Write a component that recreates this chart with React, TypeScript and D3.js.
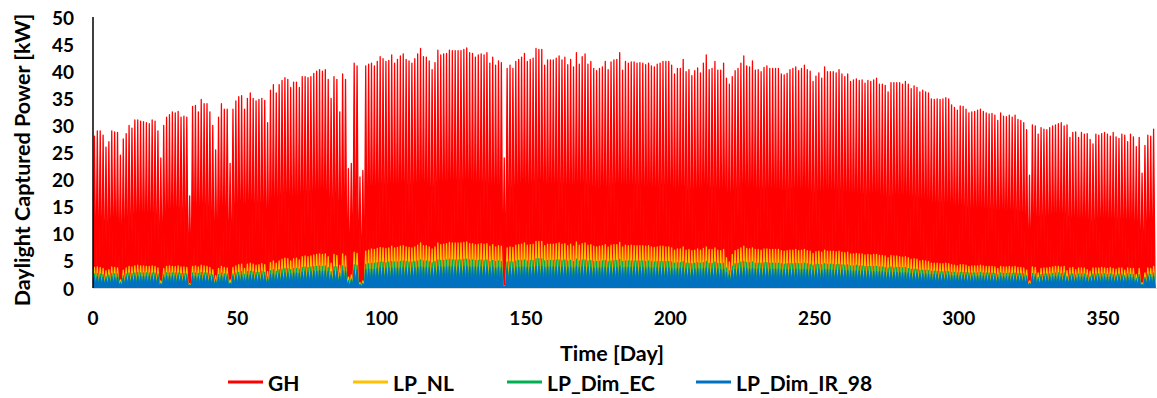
import React from 'react';
import * as d3 from 'd3';

// Daily peak values [kW], day 0 .. 367
const GH = [
  28, 29, 29, 28.2, 26, 27, 29, 28.8, 28.7, 24.5,
  27.5, 28.5, 30, 29.5, 31, 31, 30.8, 30.7, 30.5, 30.3,
  31, 30.8, 29, 24, 30, 31.5, 32, 32.5, 32.3, 32.6,
  31.5, 31.7, 31.5, 17, 33.5, 33.7, 32.5, 34.8, 34, 34,
  32.5, 30, 25.5, 31.5, 34, 33, 33, 23, 33, 34.5,
  35.3, 35.5, 33, 35, 36, 35, 34.5, 34.8, 35, 34.6,
  30.5, 36.5, 37.5, 36, 37.5, 38.3, 38.8, 38.5, 37, 38,
  38, 37, 39, 39, 38.8, 39, 39.6, 40, 40.3, 40,
  40.3, 38.5, 35, 39, 38.5, 32.5, 39.5, 38.5, 22, 23,
  41.5, 41, 20.5, 21.7, 41, 41.3, 41.5, 41, 41.8, 42.7,
  42.3, 41.8, 42, 43, 41.5, 42.2, 42.8, 43.2, 42.2, 41.9,
  41.5, 42.3, 43.2, 44.2, 42.7, 42.6, 41.9, 40.3, 41.6, 43.9,
  43.0, 43.2, 43.3, 43.9, 43.8, 43.8, 43.8, 43.8, 44.0, 44.3,
  43.4, 43.3, 42.6, 43.0, 43.2, 43.0, 43.4, 41.5, 42.6, 41.1,
  41.9, 41.6, 24, 40.5, 41.1, 40.5, 41.8, 42.2, 42.6, 43.3,
  41.8, 42.2, 42.4, 44.2, 44.0, 44.0, 41.1, 42.1, 42.1, 42.1,
  42.4, 42.8, 42.1, 42.6, 41.2, 42.2, 40.8, 43.4, 41.3, 42.7,
  43.2, 41.3, 41.8, 40.5, 40.1, 40.5, 40.8, 41.8, 40.3, 41.7,
  42.1, 42.2, 43.4, 40.2, 41.8, 41.5, 41.7, 41.7, 41.5, 41.6,
  41.5, 41.2, 41.5, 41.0, 40.8, 41.3, 41.5, 41.8, 41.8, 41.8,
  41.1, 39.5, 40.5, 40.5, 42.2, 39.9, 40.3, 39.2, 40.1, 40.6,
  39.7, 41.5, 43.0, 40.3, 40.5, 41.8, 40.2, 40.2, 41.5, 38.7,
  37.6, 39.0, 40.1, 40.5, 41.5, 42.8, 41.0, 40.8, 41.9, 40.2,
  40.3, 39.9, 40.7, 41.0, 40.5, 40.5, 40.5,
  40.5, 39.5, 39.3, 39.6, 40.3, 40.5, 40.8, 40.1, 40.5, 41.1,
  40.3, 40.0, 38.1, 39.1, 39.7, 38.7, 40.8, 39.9, 39.9, 39.9,
  39.7, 40.3, 39.5, 39.0, 39.5, 38.1, 38.4, 38.6, 38.3, 38.4,
  37.8, 38.3, 38.1, 38.4, 38.7, 37.6, 37.6, 37.4, 36.2, 37.9,
  37.9, 37.9, 37.9, 37.6, 38.1, 37.6, 36.8, 37.3, 37.0, 36.2,
  36.5, 36.2, 36.0, 34.9, 34.8, 34.9, 34.8, 34.9, 35.1, 34.9,
  33.8, 33.3, 32.8, 33.6, 33.5, 33.0, 32.3, 32.5, 32.6, 32.8,
  33.0, 32.6, 32.3, 32.1, 32.2, 31.9, 30.9, 32.3, 31.7, 31.6,
  31.9, 31.5, 31.9, 31.1, 30.9, 30.5, 29.2, 20.8, 30.1, 29.9,
  28.4, 29.6, 29.3, 29.2, 29.6, 29.9, 30.1, 30.3, 30.5, 29.9,
  30.1, 27.8, 28.7, 28.8, 27.8, 28.7, 28.4, 28.5, 27.4, 26.6,
  28.4, 28.2, 28.5, 28.7, 28.4, 28.0, 28.7, 27.9, 27.6, 28.4,
  28.2, 27.0, 28.4, 27.9, 26.1, 27.8, 21.2, 26.3, 28.2, 28.0,
  29.3,
];

const LP_NL = [
  3.8, 3.9, 3.8, 3.6, 3.2, 3.4, 3.9, 3.8, 3.7, 1.5,
  3.3, 3.7, 4.0, 3.9, 4.1, 4.2, 4.1, 4.1, 4.0, 4.0,
  4.1, 4.0, 3.7, 1.3, 3.6, 4.0, 4.1, 4.0, 4.0, 4.1,
  3.9, 3.9, 3.8, 0.8, 4.0, 4.1, 3.9, 4.2, 4.1, 4.0,
  3.8, 3.4, 2.3, 3.6, 4.0, 3.8, 3.7, 1.5, 3.8, 4.1,
  4.3, 4.4, 3.6, 4.4, 4.6, 4.4, 4.2, 4.3, 4.5, 4.3,
  3.0, 4.7, 5.0, 4.6, 5.0, 5.3, 5.5, 5.4, 5.0, 5.4,
  5.5, 5.2, 5.8, 5.9, 5.8, 5.9, 6.1, 6.2, 6.3, 6.2,
  6.3, 5.8, 4.6, 6.2, 6.0, 4.2, 6.3, 5.9, 2.0, 2.4,
  6.6, 6.4, 1.0, 1.3, 6.8, 7.0, 7.2, 7.1, 7.3, 7.5,
  7.4, 7.3, 7.4, 7.7, 7.4, 7.5, 7.7, 7.8, 7.6, 7.5,
  7.4, 7.6, 7.9, 8.3, 7.8, 7.8, 7.6, 7.2, 7.6, 8.3,
  8.0, 8.1, 8.2, 8.4, 8.3, 8.3, 8.3, 8.3, 8.4, 8.5,
  8.2, 8.2, 8.0, 8.1, 8.2, 8.1, 8.2, 7.7, 8.0, 7.6,
  7.8, 7.7, 0.4, 7.4, 7.6, 7.5, 7.9, 8.0, 8.1, 8.3,
  7.9, 8.0, 8.1, 8.6, 8.6, 8.6, 7.8, 8.1, 8.1, 8.1,
  8.2, 8.3, 8.1, 8.2, 7.8, 8.1, 7.7, 8.5, 7.9, 8.2,
  8.3, 7.9, 8.0, 7.7, 7.6, 7.7, 7.8, 8.0, 7.6, 7.9,
  8.0, 8.0, 8.4, 7.6, 7.9, 7.8, 7.9, 7.8, 7.8, 7.8,
  7.8, 7.7, 7.8, 7.6, 7.5, 7.6, 7.7, 7.7, 7.6, 7.6,
  7.4, 7.0, 7.2, 7.2, 7.6, 7.0, 7.1, 6.9, 7.0, 7.2,
  7.0, 7.3, 7.6, 7.1, 7.1, 7.4, 7.0, 6.9, 7.1, 5.6,
  4.8, 6.2, 6.9, 7.1, 7.4, 7.7, 7.3, 7.2, 7.4, 7.1,
  7.1, 7.0, 7.2, 7.2, 7.1, 7.1, 7.1, 7.1, 6.9, 6.8,
  6.9, 7.0, 7.0, 7.1, 6.9, 7.0, 7.1, 6.9, 6.8, 6.4,
  6.7, 6.8, 6.6, 7.0, 6.8, 6.8, 6.8, 6.7, 6.8, 6.6,
  6.5, 6.6, 6.3, 6.3, 6.4, 6.3, 6.3, 6.1, 6.2, 6.1,
  6.2, 6.2, 6.0, 6.0, 5.9, 5.6, 6.0, 5.9, 5.9, 5.8,
  5.7, 5.8, 5.6, 5.3, 5.4, 5.3, 5.0, 5.1, 5.0, 4.9,
  4.6, 4.6, 4.6, 4.5, 4.5, 4.6, 4.5, 4.3, 4.2, 4.1,
  4.3, 4.3, 4.2, 4.0, 4.1, 4.1, 4.1, 4.2, 4.1, 4.0,
  4.0, 4.0, 3.9, 3.6, 4.0, 3.9, 3.9, 4.0, 3.9, 4.0,
  3.8, 3.8, 3.7, 3.3, 1.3, 3.9, 3.8, 2.8, 3.6, 3.7,
  3.7, 3.8, 3.9, 4.0, 4.0, 3.9, 4.0, 3.2, 3.7, 3.8,
  3.4, 3.7, 3.7, 3.7, 3.4, 3.1, 3.7, 3.7, 3.7, 3.8,
  3.7, 3.6, 3.8, 3.6, 3.5, 3.7, 3.7, 3.3, 3.7, 3.6,
  3.6, 2.5, 3.6, 1.0, 2.8, 3.7, 3.6, 4.0,
];

const LP_DIM_EC = [
  2.6, 2.7, 2.6, 2.5, 2.2, 2.4, 2.7, 2.6, 2.6, 1.1,
  2.3, 2.6, 2.8, 2.7, 2.8, 2.9, 2.8, 2.8, 2.8, 2.8,
  2.8, 2.8, 2.6, 0.9, 2.5, 2.8, 2.8, 2.8, 2.8, 2.8,
  2.7, 2.7, 2.6, 0.6, 2.8, 2.8, 2.7, 2.9, 2.8, 2.8,
  2.6, 2.4, 1.6, 2.5, 2.8, 2.6, 2.6, 1.0, 2.6, 2.8,
  2.9, 3.0, 2.5, 3.0, 3.1, 3.0, 2.9, 2.9, 3.1, 2.9,
  2.1, 3.2, 3.4, 3.1, 3.4, 3.5, 3.6, 3.6, 3.4, 3.6,
  3.6, 3.5, 3.8, 3.9, 3.8, 3.9, 4.0, 4.0, 4.1, 4.0,
  4.1, 3.8, 3.0, 4.0, 3.9, 2.8, 4.1, 3.9, 1.4, 1.7,
  4.3, 4.2, 0.7, 0.9, 4.4, 4.5, 4.6, 4.6, 4.7, 4.8,
  4.8, 4.7, 4.8, 4.9, 4.8, 4.8, 4.9, 5.0, 4.9, 4.8,
  4.8, 4.9, 5.0, 5.2, 5.0, 5.0, 4.9, 4.7, 4.9, 5.2,
  5.1, 5.1, 5.2, 5.3, 5.2, 5.2, 5.2, 5.2, 5.3, 5.3,
  5.2, 5.2, 5.1, 5.1, 5.2, 5.1, 5.2, 4.9, 5.1, 4.9,
  5.0, 4.9, 0.3, 4.8, 4.9, 4.8, 5.0, 5.1, 5.1, 5.2,
  5.0, 5.1, 5.1, 5.4, 5.4, 5.4, 5.0, 5.1, 5.1, 5.1,
  5.2, 5.2, 5.1, 5.2, 5.0, 5.1, 4.9, 5.3, 5.0, 5.2,
  5.2, 5.0, 5.1, 4.9, 4.9, 4.9, 5.0, 5.1, 4.9, 5.0,
  5.1, 5.1, 5.3, 4.9, 5.0, 5.0, 5.0, 5.0, 5.0, 5.0,
  5.0, 4.9, 5.0, 4.9, 4.8, 4.9, 4.9, 4.9, 4.9, 4.9,
  4.8, 4.6, 4.7, 4.7, 4.9, 4.6, 4.6, 4.5, 4.6, 4.7,
  4.6, 4.7, 4.9, 4.6, 4.6, 4.8, 4.6, 4.5, 4.6, 3.7,
  3.2, 4.1, 4.5, 4.6, 4.8, 4.9, 4.7, 4.7, 4.8, 4.6,
  4.6, 4.6, 4.7, 4.7, 4.6, 4.6, 4.6, 4.6, 4.5, 4.4,
  4.5, 4.5, 4.5, 4.6, 4.5, 4.5, 4.6, 4.5, 4.4, 4.2,
  4.4, 4.4, 4.3, 4.5, 4.4, 4.4, 4.4, 4.3, 4.4, 4.3,
  4.2, 4.3, 4.1, 4.1, 4.2, 4.1, 4.1, 4.0, 4.0, 4.0,
  4.0, 4.0, 3.9, 3.9, 3.8, 3.7, 3.9, 3.8, 3.8, 3.8,
  3.7, 3.8, 3.6, 3.5, 3.5, 3.5, 3.3, 3.3, 3.3, 3.2,
  3.1, 3.1, 3.1, 3.0, 3.0, 3.1, 3.0, 2.9, 2.9, 2.8,
  2.9, 2.9, 2.9, 2.8, 2.8, 2.8, 2.8, 2.9, 2.8, 2.8,
  2.8, 2.8, 2.7, 2.5, 2.8, 2.7, 2.7, 2.8, 2.7, 2.8,
  2.7, 2.7, 2.6, 2.3, 0.9, 2.7, 2.6, 2.0, 2.5, 2.6,
  2.6, 2.6, 2.7, 2.8, 2.8, 2.7, 2.8, 2.2, 2.6, 2.6,
  2.4, 2.6, 2.6, 2.6, 2.4, 2.2, 2.6, 2.6, 2.6, 2.6,
  2.6, 2.5, 2.6, 2.5, 2.4, 2.6, 2.6, 2.3, 2.6, 2.5,
  2.5, 1.8, 2.5, 0.7, 2.0, 2.6, 2.5, 2.8,
];

const LP_DIM_IR_98 = [
  2.0, 2.1, 2.0, 1.9, 1.7, 1.9, 2.1, 2.0, 2.0, 0.9,
  1.8, 2.0, 2.2, 2.1, 2.2, 2.2, 2.2, 2.2, 2.2, 2.2,
  2.2, 2.2, 2.0, 0.7, 2.0, 2.2, 2.2, 2.2, 2.2, 2.2,
  2.1, 2.1, 2.0, 0.5, 2.2, 2.2, 2.1, 2.3, 2.2, 2.2,
  2.1, 1.9, 1.3, 2.0, 2.2, 2.1, 2.1, 0.8, 2.1, 2.2,
  2.3, 2.4, 2.0, 2.4, 2.4, 2.4, 2.3, 2.3, 2.4, 2.3,
  1.7, 2.5, 2.6, 2.4, 2.6, 2.7, 2.8, 2.8, 2.6, 2.8,
  2.8, 2.7, 2.9, 3.0, 2.9, 3.0, 3.1, 3.1, 3.2, 3.1,
  3.2, 3.0, 2.4, 3.1, 3.0, 2.2, 3.2, 3.0, 1.1, 1.3,
  3.3, 3.3, 0.6, 0.7, 3.4, 3.5, 3.5, 3.5, 3.6, 3.7,
  3.7, 3.6, 3.7, 3.7, 3.7, 3.7, 3.7, 3.8, 3.7, 3.7,
  3.7, 3.7, 3.8, 3.9, 3.8, 3.8, 3.7, 3.6, 3.7, 3.9,
  3.9, 3.9, 3.9, 4.0, 3.9, 3.9, 3.9, 3.9, 4.0, 4.0,
  3.9, 3.9, 3.9, 3.9, 3.9, 3.9, 3.9, 3.7, 3.9, 3.7,
  3.8, 3.7, 0.3, 3.6, 3.7, 3.6, 3.8, 3.8, 3.9, 3.9,
  3.8, 3.8, 3.9, 4.0, 4.0, 4.0, 3.8, 3.9, 3.9, 3.9,
  3.9, 3.9, 3.9, 3.9, 3.8, 3.9, 3.7, 4.0, 3.8, 3.9,
  3.9, 3.8, 3.8, 3.7, 3.7, 3.7, 3.8, 3.8, 3.7, 3.8,
  3.8, 3.8, 4.0, 3.7, 3.8, 3.8, 3.8, 3.8, 3.8, 3.8,
  3.8, 3.7, 3.8, 3.7, 3.7, 3.7, 3.7, 3.7, 3.7, 3.7,
  3.6, 3.5, 3.6, 3.6, 3.7, 3.5, 3.5, 3.4, 3.5, 3.6,
  3.5, 3.6, 3.7, 3.5, 3.5, 3.6, 3.5, 3.4, 3.5, 2.9,
  2.5, 3.2, 3.4, 3.5, 3.6, 3.7, 3.6, 3.5, 3.6, 3.5,
  3.5, 3.5, 3.5, 3.5, 3.5, 3.5, 3.5, 3.5, 3.4, 3.4,
  3.4, 3.4, 3.4, 3.5, 3.4, 3.4, 3.5, 3.4, 3.4, 3.2,
  3.3, 3.4, 3.3, 3.4, 3.4, 3.4, 3.3, 3.3, 3.3, 3.3,
  3.2, 3.3, 3.2, 3.1, 3.2, 3.1, 3.1, 3.1, 3.1, 3.0,
  3.0, 3.0, 3.0, 3.0, 2.9, 2.8, 2.9, 2.9, 2.9, 2.9,
  2.8, 2.9, 2.8, 2.7, 2.7, 2.7, 2.6, 2.6, 2.6, 2.5,
  2.5, 2.5, 2.5, 2.4, 2.4, 2.4, 2.4, 2.3, 2.3, 2.3,
  2.3, 2.3, 2.3, 2.2, 2.2, 2.2, 2.2, 2.3, 2.2, 2.2,
  2.2, 2.2, 2.1, 2.0, 2.2, 2.1, 2.1, 2.2, 2.1, 2.2,
  2.1, 2.1, 2.1, 1.9, 0.8, 2.1, 2.1, 1.6, 2.0, 2.1,
  2.1, 2.1, 2.1, 2.2, 2.2, 2.1, 2.2, 1.8, 2.1, 2.1,
  1.9, 2.1, 2.1, 2.1, 1.9, 1.8, 2.1, 2.1, 2.1, 2.1,
  2.1, 2.0, 2.1, 2.0, 2.0, 2.1, 2.1, 1.9, 2.1, 2.0,
  2.0, 1.5, 2.0, 0.6, 1.6, 2.1, 2.0, 2.2,
];

const SERIES_NAMES = ['GH', 'LP_NL', 'LP_Dim_EC', 'LP_Dim_IR_98'];
const SERIES_COLORS = ['#FF0000', '#FFC000', '#00B050', '#0070C0'];
const Y_TICKS = [0, 5, 10, 15, 20, 25, 30, 35, 40, 45, 50];
const X_TICKS = [0, 50, 100, 150, 200, 250, 300, 350];

type Pt = { t: number; v: number };

function toPoints(peaks: number[]): Pt[] {
  const pts: Pt[] = [];
  peaks.forEach((p, i) => {
    pts.push({ t: i, v: 0 });
    pts.push({ t: i + 0.5, v: p });
  });
  pts.push({ t: peaks.length, v: 0 });
  return pts;
}

export default function App() {
  const W = 1157;
  const H = 398;
  const x0 = 93;
  const pxPerDay = 2.886;
  const x = d3.scaleLinear().domain([0, 370]).range([x0, x0 + 370 * pxPerDay]);
  const y = d3.scaleLinear().domain([0, 50]).range([288, 17]);

  const area = d3
    .area<Pt>()
    .x((d) => x(d.t))
    .y0(y(0))
    .y1((d) => y(d.v));
  const line = d3
    .line<Pt>()
    .x((d) => x(d.t))
    .y((d) => y(d.v));

  const data = [GH, LP_NL, LP_DIM_EC, LP_DIM_IR_98];
  const font = "Lato, 'Open Sans', sans-serif";

  const legendX = [228, 353, 507, 696];
  const legendY = 382;

  return (
    <svg
      width={W}
      height={H}
      style={{ position: 'absolute', left: 0, top: 0, background: '#fff' }}
      fontFamily={font}
      fontWeight="bold"
    >
      <defs>
        <clipPath id="plotclip">
          <rect x={x0} y={0} width={W - x0} height={289} />
        </clipPath>
      </defs>
      <g clipPath="url(#plotclip)">
        {data.map((peaks, i) => {
          const pts = toPoints(peaks);
          return (
            <g key={SERIES_NAMES[i]}>
              <path d={area(pts) || ''} fill={SERIES_COLORS[i]} stroke="none" />
              <path
                d={line(pts) || ''}
                fill="none"
                stroke={SERIES_COLORS[i]}
                strokeWidth={1.3}
                strokeLinejoin="round"
              />
            </g>
          );
        })}
      </g>
      <line x1={x0} x2={W} y1={288.5} y2={288.5} stroke="#d9d9d9" strokeWidth={1} />
      <line x1={x0} x2={x0} y1={17} y2={288} stroke="#000" strokeWidth={1.5} />

      {Y_TICKS.map((t) => (
        <text key={t} x={74} y={y(t)} textAnchor="end" dominantBaseline="central" fontSize={19} fill="#000">
          {t}
        </text>
      ))}
      {X_TICKS.map((t) => (
        <text key={t} x={x(t)} y={317} textAnchor="middle" dominantBaseline="central" fontSize={19} fill="#000">
          {t}
        </text>
      ))}
      <text x={612} y={353} textAnchor="middle" dominantBaseline="central" fontSize={21.5} fill="#000">
        Time [Day]
      </text>
      <text
        transform={`translate(22,${160}) rotate(-90)`}
        textAnchor="middle"
        dominantBaseline="central"
        fontSize={21.5}
        fill="#000"
      >
        Daylight Captured Power [kW]
      </text>

      {SERIES_NAMES.map((n, i) => (
        <g key={n}>
          <line
            x1={legendX[i]}
            x2={legendX[i] + 35}
            y1={legendY}
            y2={legendY}
            stroke={SERIES_COLORS[i]}
            strokeWidth={3}
          />
          <text x={legendX[i] + 40} y={legendY} dominantBaseline="central" fontSize={21} fill="#000">
            {n}
          </text>
        </g>
      ))}
    </svg>
  );
}
